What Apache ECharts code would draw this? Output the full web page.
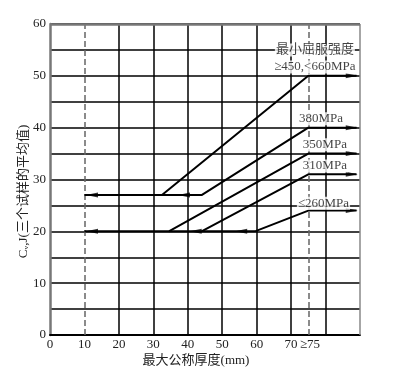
<!DOCTYPE html>
<html><head><meta charset="utf-8">
<script src="https://cdn.jsdelivr.net/npm/echarts@6/dist/echarts.min.js"></script>
<style>html,body{margin:0;padding:0;background:#fff}#c{width:414px;height:371px}</style>
</head><body><div id="c"></div>
<script>
// ---- data ----
const xLabelValues = [0, 10, 20, 30, 40, 50, 60, 70, 75];
const yLabelValues = [0, 10, 20, 30, 40, 50, 60];
const xSolidGrid = [20, 30, 40, 50, 60, 70, 80];
const xDashedGrid = [10, 75];
const line450 = [[10, 27], [32.5, 27], [75, 50], [89, 50]];
const line380 = [[32.5, 27], [44, 27], [75, 40], [89, 40]];
const line350 = [[10, 20], [34.5, 20], [75, 35], [89, 35]];
const line310 = [[34.5, 20], [44, 20], [75, 31], [89, 31]];
const line260 = [[44, 20], [59.5, 20], [75, 24], [89, 24]];
const leftArrows = [[12.2, 27], [38.9, 27], [12.2, 20], [42.3, 20], [55.5, 20]];
const rightArrows = [[87.6, 50], [87.6, 40], [87.6, 35], [87.6, 31], [87.6, 24]];
const annotationTexts = ['最小屈服强度', '≥450,<660MPa', '380MPa', '350MPa', '310MPa', '≤260MPa'];
const annotationPoints = [[76.9, 55], [76.9, 51.7], [78.7, 41.7], [79.8, 36.7], [79.8, 32.6], [79.4, 25.4]];

// ---- chart ----
const FONT = "'Liberation Serif','DejaVu Serif','Noto Sans CJK SC',serif";
const chart = echarts.init(document.getElementById('c'), null, {renderer: 'canvas'});
const curve = (name, data) => ({
  name, type: 'line', data, symbol: 'none', silent: true, z: 5,
  lineStyle: {color: '#000', width: 2}
});
chart.setOption({
  animation: false,
  backgroundColor: '#fff',
  grid: {left: 50, right: 54, top: 24, bottom: 36, outerBoundsMode: 'none', containLabel: false},
  xAxis: {
    type: 'value', min: 0, max: 90, interval: 5,
    name: '最大公称厚度(mm)', nameLocation: 'middle', nameGap: 19,
    nameMoveOverlap: false,
    nameTextStyle: {fontFamily: FONT, fontSize: 13, color: '#222', padding: [0, 18, 0, 0]},
    axisLine: {show: true, lineStyle: {color: '#000', width: 2}},
    axisTick: {show: false},
    splitLine: {show: false},
    axisLabel: {
      fontFamily: FONT, fontSize: 13, color: '#222', margin: 3,
      formatter: v => xLabelValues.includes(v) ? (v === 75 ? ' ≥75' : String(v)) : ''
    }
  },
  yAxis: {
    type: 'value', min: 0, max: 60, interval: 5,
    name: 'Cᵥ,J(三个试样的平均值)', nameLocation: 'middle', nameGap: 20,
    nameMoveOverlap: false,
    nameTextStyle: {fontFamily: FONT, fontSize: 13, color: '#222', padding: [0, 24, 0, 0]},
    axisLine: {show: true, lineStyle: {color: '#777', width: 2.5}},
    axisTick: {show: false},
    splitLine: {show: true, lineStyle: {color: '#000', width: 1.5}},
    axisLabel: {
      fontFamily: FONT, fontSize: 13, color: '#222', margin: 4,
      formatter: v => yLabelValues.includes(v) ? String(v) : ''
    }
  },
  series: [
    {
      type: 'line', data: [], silent: true, z: 2,
      markLine: {
        silent: true, symbol: 'none', label: {show: false}, animation: false,
        data: [
          ...xSolidGrid.map(v => ({xAxis: v, lineStyle: {color: '#000', width: 1.5, type: 'solid'}})),
          ...xDashedGrid.map(v => ({xAxis: v, lineStyle: {color: '#666', width: 1.5, type: [6, 3]}})),
          {xAxis: 90, lineStyle: {color: '#888', width: 1.5, type: 'solid'}},
          {yAxis: 60, lineStyle: {color: '#777', width: 2.5, type: 'solid'}}
        ]
      }
    },
    curve('450', line450),
    curve('380', line380),
    curve('350', line350),
    curve('310', line310),
    curve('260', line260),
    {
      type: 'scatter', data: leftArrows, symbol: 'triangle', symbolSize: [5, 12],
      symbolRotate: 90, itemStyle: {color: '#000'}, silent: true, z: 6
    },
    {
      type: 'scatter', data: rightArrows, symbol: 'triangle', symbolSize: [5, 12],
      symbolRotate: -90, itemStyle: {color: '#000'}, silent: true, z: 6
    },
    {
      type: 'scatter', symbolSize: 1, itemStyle: {color: 'transparent'}, silent: true, z: 10,
      data: annotationPoints.map((p, i) => ({value: p, label: {formatter: annotationTexts[i]}})),
      label: {
        show: true, position: 'inside', fontFamily: FONT, fontSize: 13, color: '#111',
        backgroundColor: '#fff', padding: [0, 1]
      }
    }
  ]
});
</script></body></html>
